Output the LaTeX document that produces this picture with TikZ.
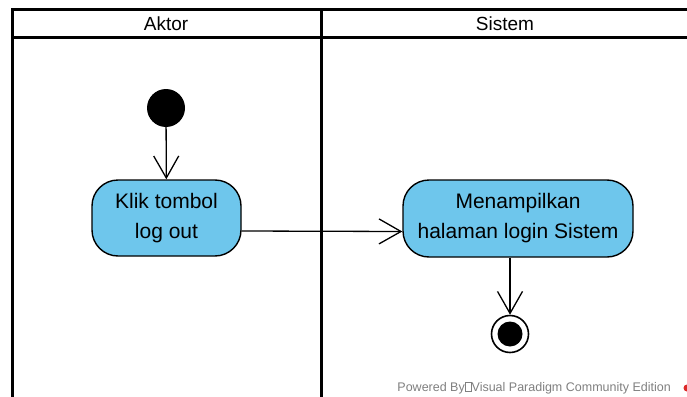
\documentclass[tikz,border=0pt]{standalone}
\usepackage{fontspec}
\setmainfont{Liberation Sans}
\usetikzlibrary{arrows.meta}

\definecolor{actfill}{RGB}{110,198,236}
\definecolor{vpgrey}{RGB}{128,128,128}
\definecolor{vpred}{RGB}{220,40,40}

\tikzset{
  lane/.style={line width=3pt, draw=black},
  lanetitle/.style={font=\fontsize{19}{22}\selectfont, inner sep=0pt},
  action/.style={draw=black, line width=1.4pt, fill=actfill, rounded corners=26pt,
    align=center, font=\fontsize{21}{30}\selectfont, inner sep=0pt},
  startnode/.style={circle, fill=black, minimum size=38pt, inner sep=0pt},
  endnode/.style={circle, draw=black, line width=1.6pt, fill=white, minimum size=37pt,
    inner sep=0pt, path picture={\fill[black] (path picture bounding box.center) circle (12.5pt);}},
  flow/.style={line width=1.3pt, -{Straight Barb[length=22pt, width=25pt, line width=1.3pt]}},
}

\begin{document}
\begin{tikzpicture}[x=1pt, y=-1pt]
  \useasboundingbox (0,0) rectangle (687,396);
  \fill[white] (0,0) rectangle (687,396);
  \begin{scope}
    \clip (0,0) rectangle (687,396);
    % swimlane frame, header band and lane divider
    \draw[lane] (12,420) -- (12,10) -- (700,10);
    \draw[lane] (12,38) -- (700,38);
    \draw[lane] (321,10) -- (321,420);
  \end{scope}

  % lane titles
  \node[lanetitle] (hA) at (166,24) {Aktor};
  \node[lanetitle] (hS) at (505,24) {Sistem};

  % activity nodes
  \node[startnode] (start) at (166,108) {};
  \node[action, minimum width=149pt, minimum height=76pt] (a1) at (166.5,218) {Klik tombol\\log out};
  \node[action, minimum width=230pt, minimum height=77pt] (a2) at (518,218.5) {Menampilkan\\halaman login Sistem};
  \node[endnode] (stop) at (510,334) {};

  % control flows
  \draw[flow] (start) -- (a1);
  \draw[flow] ([yshift=-13pt]a1.east) -- ([yshift=-13pt]a2.west);
  \draw[flow] (a2.south -| stop) -- (stop);

  % footer credit
  \node[anchor=east, text=vpgrey, font=\fontsize{12.5}{14}\selectfont, inner sep=0pt] (credit) at (671,388)
    {Powered By\tikz[baseline=0pt, x=1pt, y=1pt]\draw[vpgrey, line width=0.5pt] (0.6,0) rectangle (6.4,9);\kern0.5pt Visual Paradigm Community Edition};
  \begin{scope}
    \clip (0,0) rectangle (687,396);
    \fill[vpred] (687,388) circle (3.5pt);
  \end{scope}
\end{tikzpicture}
\end{document}
